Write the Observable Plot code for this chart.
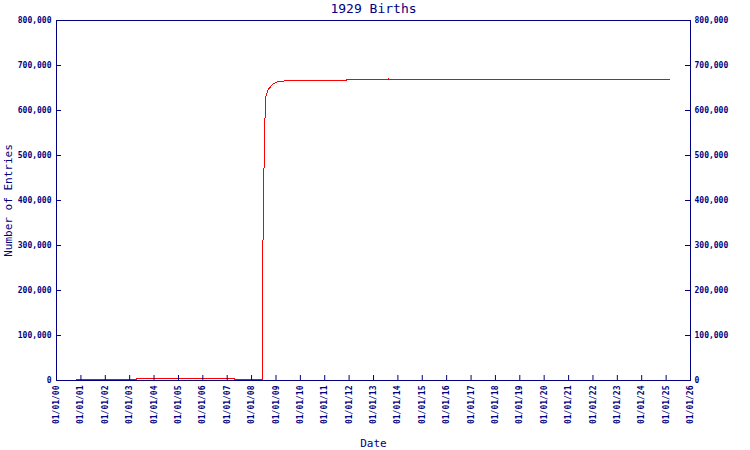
<!DOCTYPE html>
<html><head><meta charset="utf-8">
<script src="https://cdn.jsdelivr.net/npm/d3@7"></script>
<script src="https://cdn.jsdelivr.net/npm/@observablehq/plot@0.6"></script>
<style>body{margin:0;background:#fff}</style>
</head><body><div id="chart"></div>
<script>
const title = "1929 Births";
const xLabel = "Date";
const yLabel = "Number of Entries";
const dates = [
  "2000-10-27","2003-04-12","2003-04-13","2007-04-20","2007-04-21",
  "2007-12-28","2008-01-03","2008-01-10","2008-06-06","2008-06-07",
  "2008-06-16","2008-07-01","2008-07-12","2008-07-23","2008-07-30",
  "2008-08-11","2008-08-25","2008-09-09","2008-10-12","2008-11-24",
  "2009-01-22","2009-03-25","2009-06-06","2011-11-20","2011-11-21",
  "2013-08-06","2013-08-08","2013-08-15","2025-02-20"
];
const entries = [
  1200,1200,3400,3400,1200,
  1200,2600,1200,1200,93000,
  261000,427000,536000,596000,629000,
  636000,642000,647000,653000,660000,
  663500,665000,666300,666300,668200,
  668200,670500,668200,668200
];
const yTicks = [0,100000,200000,300000,400000,500000,600000,700000,800000];
const xTickYears = [2000,2001,2002,2003,2004,2005,2006,2007,2008,2009,2010,2011,2012,2013,
  2014,2015,2016,2017,2018,2019,2020,2021,2022,2023,2024,2025,2026];

const navy = "#000080";
const data = dates.map((d, i) => ({date: new Date(d + "T00:00:00Z"), value: entries[i]}));
const xTicks = xTickYears.map(y => new Date(Date.UTC(y, 0, 1)));
const font = "DejaVu Sans Mono";
const fmtY = d3.format(",");

const chart = Plot.plot({
  width: 750, height: 450,
  marginLeft: 56, marginRight: 60, marginTop: 20, marginBottom: 70,
  style: {fontFamily: font, fontSize: "8px", color: navy, background: "white", fontWeight: "bold"},
  x: {type: "utc", domain: [xTicks[0], xTicks[xTicks.length - 1]]},
  y: {domain: [0, 800000]},
  marks: [
    Plot.line(data, {x: "date", y: "value", stroke: "#ff0000", strokeWidth: 1, shapeRendering: "crispEdges"}),
    Plot.frame({stroke: navy}),
    Plot.tickX(xTicks, {x: d => d, stroke: navy, insetTop: 355}),
    Plot.tickY(yTicks, {y: d => d, stroke: navy, insetRight: 629}),
    Plot.tickY(yTicks, {y: d => d, stroke: navy, insetLeft: 629}),
    Plot.axisY({ticks: yTicks, anchor: "left", tickSize: 0, tickPadding: 5, tickFormat: fmtY, label: null}),
    Plot.axisY({ticks: yTicks, anchor: "right", tickSize: 0, tickPadding: 4, tickFormat: fmtY, label: null}),
    Plot.axisX({ticks: xTicks, anchor: "bottom", tickSize: 0, tickPadding: 5, tickRotate: -90,
      tickFormat: d3.utcFormat("%m/%d/%y"), label: null}),
    Plot.text([title], {text: d => d, frameAnchor: "top", dy: -12, lineAnchor: "middle", textAnchor: "middle", fontSize: 13, fill: navy, fontWeight: "normal"}),
    Plot.text([xLabel], {text: d => d, frameAnchor: "bottom", dy: 63, lineAnchor: "middle", textAnchor: "middle", fontSize: 11, fill: navy, fontWeight: "normal"}),
    Plot.text([yLabel], {text: d => d, frameAnchor: "left", dx: -48, rotate: -90, lineAnchor: "middle", textAnchor: "middle", fontSize: 11, fill: navy, fontWeight: "normal"})
  ]
});
document.getElementById("chart").append(chart);
</script>
</body></html>
